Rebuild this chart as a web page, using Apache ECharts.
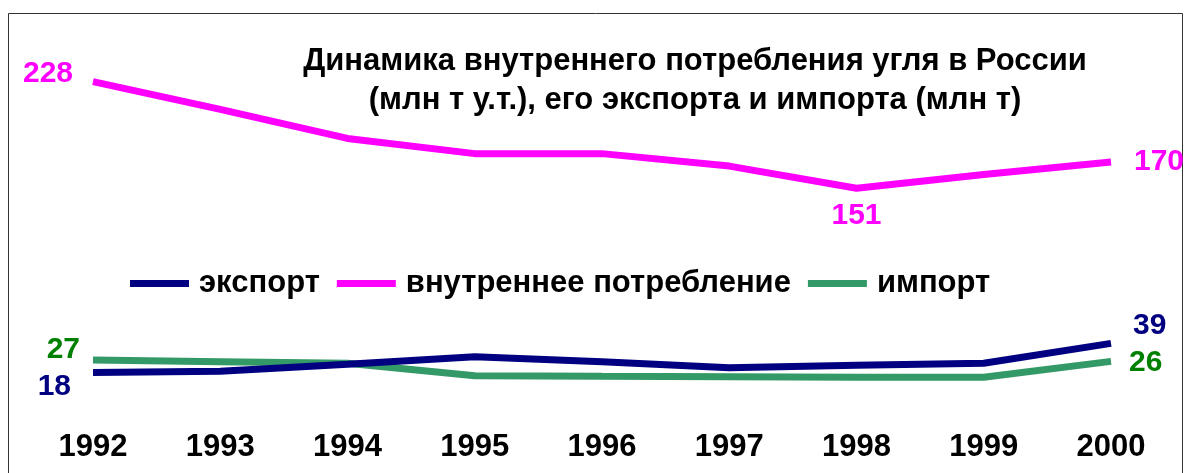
<!DOCTYPE html>
<html style="height: 100%">
<head>
    <meta charset="utf-8">
</head>
<body style="height: 100%; margin: 0; background: #fff">
<div id="container" style="width: 1184px; height: 473px"></div>
<script type="text/javascript" src="https://cdn.jsdelivr.net/npm/echarts@6/dist/echarts.min.js"></script>
<script type="text/javascript">
    var dom = document.getElementById("container");
    var myChart = echarts.init(dom);

    const years = ['1992', '1993', '1994', '1995', '1996', '1997', '1998', '1999', '2000'];
    const exportVals = [18, 18.8, 23.9, 29.4, 25.8, 21.4, 23.2, 24.6, 39];
    const consumption = [228, 208, 187, 176, 176, 167, 151, 161, 170];
    const importVals = [27, 25.8, 24.6, 15.7, 15.2, 14.9, 14.5, 14.5, 26];

    const font = 'Liberation Sans, Arial, sans-serif';

    // which points get a value label, and where
    function withLabels(values, color, labels) {
        return values.map(function (v, i) {
            const l = labels[i];
            if (!l) return v;
            return {
                value: v,
                label: Object.assign({
                    show: true,
                    color: color,
                    fontSize: 30,
                    fontWeight: 'bold',
                    fontFamily: font
                }, l)
            };
        });
    }

    var option = {
        backgroundColor: '#fff',
        animation: false,
        title: {
            text: 'Динамика внутреннего потребления угля в России\n(млн т у.т.), его экспорта и импорта (млн т)',
            left: 690,
            top: 37,
            textAlign: 'center',
            textStyle: {
                fontFamily: font,
                fontSize: 31,
                fontWeight: 'bold',
                color: '#000',
                lineHeight: 39,
                align: 'center'
            }
        },
        legend: {
            left: 125,
            top: 263,
            icon: 'rect',
            itemWidth: 59,
            itemHeight: 7,
            itemGap: 17,
            textStyle: {
                fontFamily: font,
                fontSize: 31,
                fontWeight: 'bold',
                color: '#000',
                padding: [0, 0, 0, 5]
            },
            data: ['экспорт', 'внутреннее потребление', 'импорт']
        },
        graphic: [{
            type: 'rect',
            shape: { x: 8.5, y: 13.5, width: 1174, height: 500 },
            style: { fill: 'none', stroke: '#333', lineWidth: 1 },
            silent: true
        }],
        grid: {
            left: 93,
            right: 73,
            top: 65,
            height: 332.4
        },
        xAxis: {
            type: 'category',
            data: years,
            boundaryGap: false,
            axisLine: { show: false },
            axisTick: { show: false },
            axisLabel: {
                margin: 35,
                fontFamily: font,
                fontSize: 31,
                fontWeight: 'bold',
                color: '#000'
            }
        },
        yAxis: {
            type: 'value',
            min: 0,
            max: 240,
            show: false,
            splitLine: { show: false }
        },
        series: [{
            name: 'экспорт',
            type: 'line',
            symbol: 'circle',
            symbolSize: 0,
            color: '#000080',
            lineStyle: { width: 7, color: '#000080' },
            data: withLabels(exportVals, '#000080', {
                0: { position: 'left', distance: 22, offset: [0, 14] },
                8: { position: 'right', distance: 22, offset: [0, -18] }
            }),
            z: 3
        }, {
            name: 'внутреннее потребление',
            type: 'line',
            symbol: 'circle',
            symbolSize: 0,
            color: '#FF00FF',
            lineStyle: { width: 7, color: '#FF00FF' },
            data: withLabels(consumption, '#FF00FF', {
                0: { position: 'left', distance: 20, offset: [0, -8] },
                6: { position: 'bottom', distance: 12 },
                8: { position: 'right', distance: 23 }
            })
        }, {
            name: 'импорт',
            type: 'line',
            symbol: 'circle',
            symbolSize: 0,
            color: '#339966',
            lineStyle: { width: 7, color: '#339966' },
            data: withLabels(importVals, '#008000', {
                0: { position: 'left', distance: 13, offset: [0, -10] },
                8: { position: 'right', distance: 18, offset: [0, 1] }
            }),
            z: 2
        }]
    };

    if (option && typeof option === 'object') {
        myChart.setOption(option);
    }
</script>
</body>
</html>
